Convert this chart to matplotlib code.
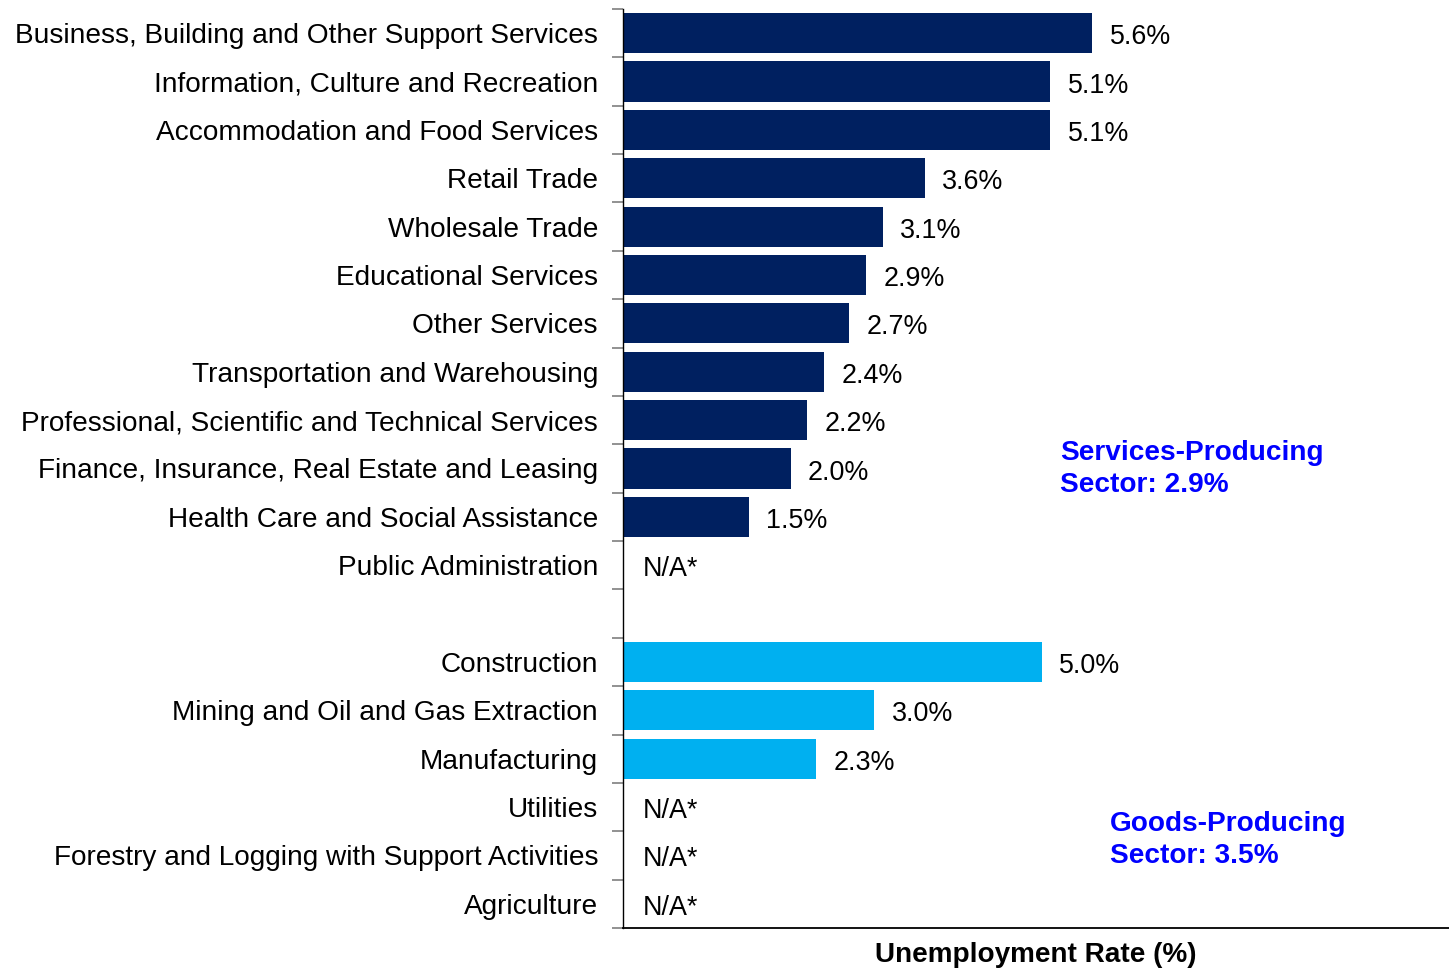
import matplotlib
matplotlib.use("Agg")
import matplotlib.pyplot as plt
import matplotlib.transforms as mtransforms
import numpy as np

plt.rcParams['font.family'] = ['Liberation Sans', 'DejaVu Sans']

services = ["Business, Building and Other Support Services",
            "Information, Culture and Recreation",
            "Accommodation and Food Services",
            "Retail Trade",
            "Wholesale Trade",
            "Educational Services",
            "Other Services",
            "Transportation and Warehousing",
            "Professional, Scientific and Technical Services",
            "Finance, Insurance, Real Estate and Leasing",
            "Health Care and Social Assistance",
            "Public Administration"]
services_vals = [5.6, 5.1, 5.1, 3.6, 3.1, 2.9, 2.7, 2.4, 2.2, 2.0, 1.5, None]

goods = ["Construction",
         "Mining and Oil and Gas Extraction",
         "Manufacturing",
         "Utilities",
         "Forestry and Logging with Support Activities",
         "Agriculture"]
goods_vals = [5.0, 3.0, 2.3, None, None, None]

services_note = "Services-Producing\nSector: 2.9%"
goods_note = "Goods-Producing\nSector: 3.5%"
xlabel = "Unemployment Rate (%)"

navy = "#002060"
sky = "#00B0F0"

fig = plt.figure(figsize=(14.49, 9.70), dpi=100)
ax = fig.add_axes([623/1449, 1-929/970, 1-623/1449, (929-10)/970])

labels = services + [""] + goods
vals = services_vals + [None] + goods_vals
colors = [navy]*len(services) + [None] + [sky]*len(goods)
pos = np.arange(len(labels))

lab_fs = 20.2
val_fs = 19.4
for p, v, c in zip(pos, vals, colors):
    if c is None:
        continue
    if v is None:
        ax.text(0.23, p, "N/A*", va='center_baseline', ha='left', fontsize=val_fs, color='black')
    else:
        ax.barh(p, v, height=0.83, color=c, edgecolor='none')
        ax.text(v + 0.21, p, f"{v:.1f}%", va='center_baseline', ha='left', fontsize=val_fs, color='black')

ax.set_ylim(len(labels) - 0.5, -0.5)
ax.set_xlim(0, (1449-623)/83.75)

ax.set_yticks(pos)
ax.set_yticklabels(labels, fontsize=lab_fs)
ax.tick_params(axis='y', which='major', length=0, pad=18)
shift = mtransforms.ScaledTranslation(0, 1/100, fig.dpi_scale_trans)
for t in ax.get_yticklabels():
    t.set_transform(t.get_transform() + shift)
ax.set_yticks(np.arange(-0.5, len(labels) + 0.5, 1), minor=True)
ax.tick_params(axis='y', which='minor', length=8, color='#7f7f7f', width=1.2)
ax.set_xticks([])

for s in ['top', 'right']:
    ax.spines[s].set_visible(False)
ax.spines['left'].set_linewidth(1.0)
ax.spines['bottom'].set_linewidth(1.3)

ax.set_xlabel(xlabel, fontsize=20.1, fontweight='bold', labelpad=9.5)

ax.text(5.22, 9.0, services_note, fontsize=lab_fs, fontweight='bold', color='#0000FF',
        va='center', ha='left', linespacing=1.3)
ax.text(5.81, 16.65, goods_note, fontsize=lab_fs, fontweight='bold', color='#0000FF',
        va='center', ha='left', linespacing=1.3)

fig.savefig("out.png", dpi=100)
